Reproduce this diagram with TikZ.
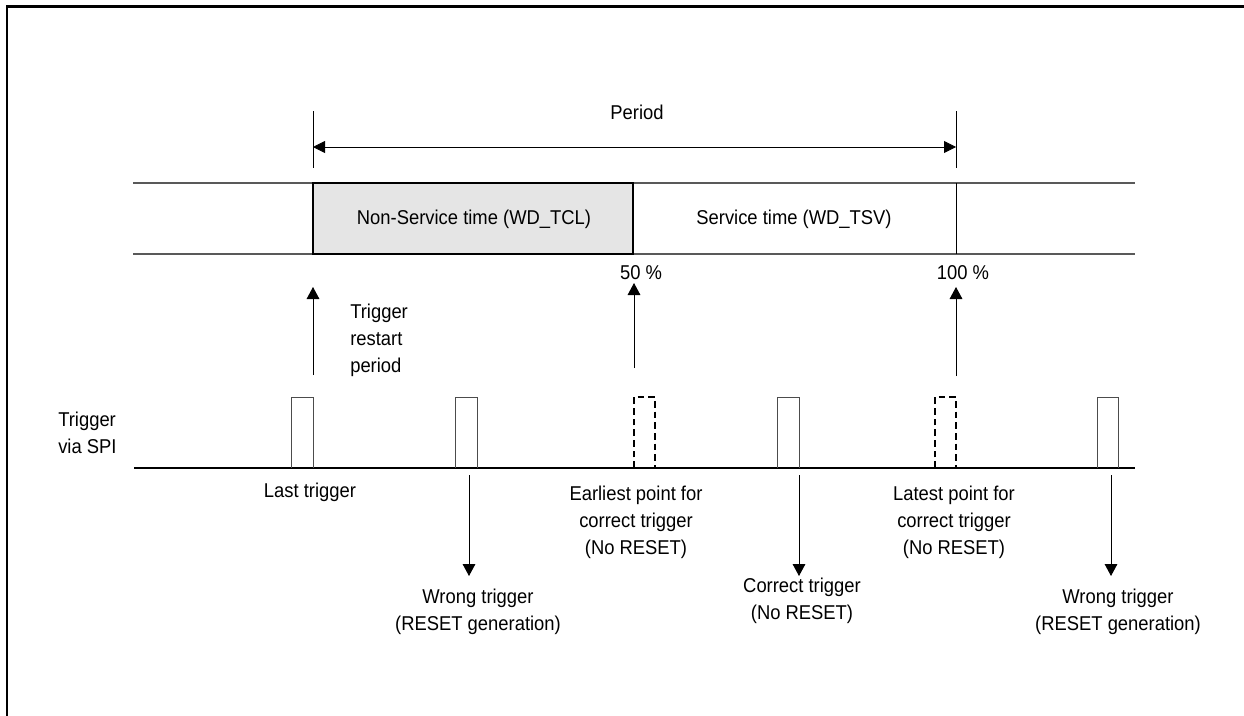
\documentclass[tikz,border=0pt]{standalone}
\usepackage{fontspec}
\setmainfont{Liberation Sans}[FakeStretch=0.92]
\usetikzlibrary{arrows.meta}

\begin{document}
\begin{tikzpicture}[x=0.75pt, y=-0.75pt,
  lbl/.style={font=\fontsize{15pt}{20.25pt}\selectfont, align=center, inner sep=0pt},
  pointer/.style={-{Triangle[length=9pt, width=9.5pt]}},
  pulse/.style={draw=black!70, line width=0.75pt},
  dpulse/.style={draw=black, line width=0.9pt, dash pattern=on 5pt off 3pt}]
\useasboundingbox (0,0) rectangle (1244,715);
\draw[line width=1.6pt] (7,716) -- (7,6.5) -- (1245,6.5);

% period
\draw[line width=0.6pt] (313,111) -- (313,168);
\draw[line width=0.6pt] (956,111) -- (956,168);
\coordinate (pstart) at (313,147);
\coordinate (pend) at (956,147);
\draw[line width=0.6pt, {Triangle[length=9pt, width=9pt]}-{Triangle[length=9pt, width=9pt]}] (pstart) -- (pend);
\node[lbl] (period) at (637,112) {Period};

% time band
\fill[black!10] (313,183) rectangle (633,254);
\draw[black!65, line width=1.1pt] (133,183) -- (1135,183);
\draw[black!65, line width=1.1pt] (133,254) -- (1135,254);
\draw[line width=0.9pt] (313,183) rectangle (633,254);
\draw[line width=0.6pt] (956,183) -- (956,254);
\node[lbl] (tcl) at (474,219) {Non-Service time (WD\_TCL)};
\node[lbl] (tsv) at (794,219) {Service time (WD\_TSV)};
\node[lbl] (half) at (641,273) {50 \%};
\node[lbl] (full) at (963,273) {100 \%};

% arrows up to the band
\coordinate (u1) at (313,375);
\coordinate (t1) at (313,287);
\coordinate (u2) at (634,368);
\coordinate (t2) at (634,283);
\coordinate (u3) at (956,376);
\coordinate (t3) at (956,287);
\draw[pointer, line width=0.7pt] (u1) -- (t1);
\draw[pointer, line width=0.7pt] (u2) -- (t2);
\draw[pointer, line width=0.7pt] (u3) -- (t3);
\node[lbl, align=left, anchor=west] (restart) at (350,340) {Trigger\\restart\\period};

% trigger line
\node[lbl, align=left, anchor=west] (spi) at (58,433) {Trigger\\via SPI};
\draw[line width=0.9pt] (134,468) -- (1135,468);
\draw[pulse] (291,468) -- (291,397) -- (313,397) -- (313,468);
\draw[pulse] (455,468) -- (455,397) -- (477,397) -- (477,468);
\draw[dpulse] (634,468) -- (634,397) -- (655,397) -- (655,468);
\draw[pulse] (777,468) -- (777,397) -- (799,397) -- (799,468);
\draw[dpulse] (935,468) -- (935,397) -- (956,397) -- (956,468);
\draw[pulse] (1097,468) -- (1097,397) -- (1118,397) -- (1118,468);

% labels below
\node[lbl] (last) at (310,492) {Last trigger};
\node[lbl] (early) at (636,522) {Earliest point for\\correct trigger\\(No RESET)};
\node[lbl] (late) at (954,522) {Latest point for\\correct trigger\\(No RESET)};
\node[lbl] (wrong1) at (478,612) {Wrong trigger\\(RESET generation)};
\node[lbl] (correct) at (802,601) {Correct trigger\\(No RESET)};
\node[lbl] (wrong2) at (1118,612) {Wrong trigger\\(RESET generation)};

% arrows down
\coordinate (d1) at (469,475);
\coordinate (e1) at (469,576);
\coordinate (d2) at (799,475);
\coordinate (e2) at (799,576);
\coordinate (d3) at (1111,475);
\coordinate (e3) at (1111,576);
\draw[pointer, line width=0.7pt] (d1) -- (e1);
\draw[pointer, line width=0.7pt] (d2) -- (e2);
\draw[pointer, line width=0.7pt] (d3) -- (e3);
\end{tikzpicture}
\end{document}
